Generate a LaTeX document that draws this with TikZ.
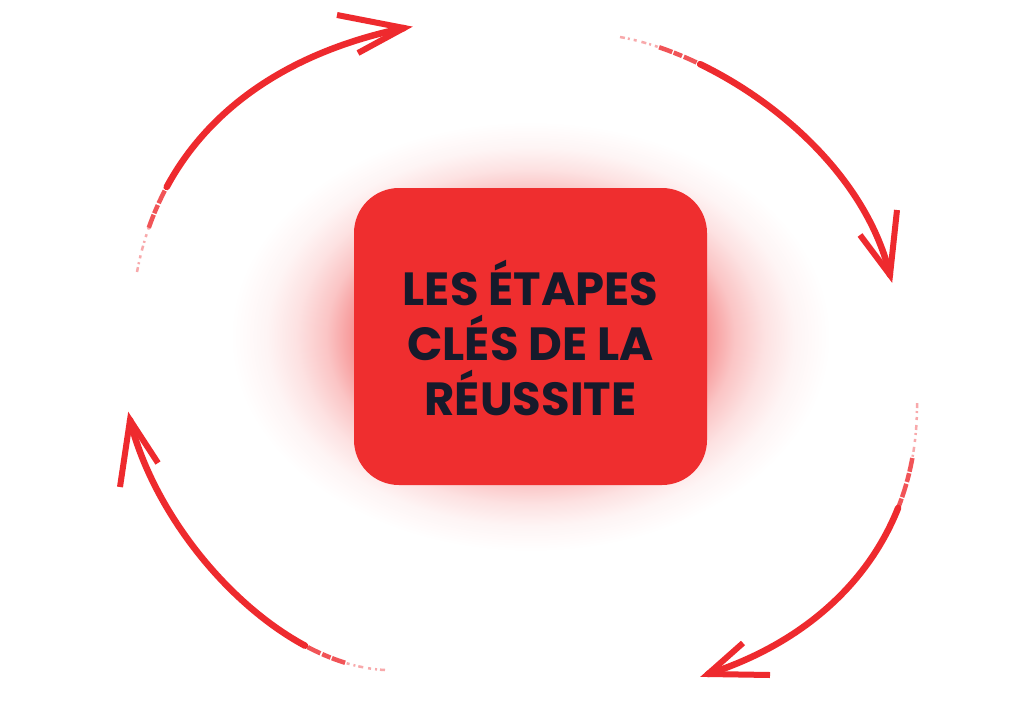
\documentclass[tikz,border=0pt]{standalone}
\usepackage{fontspec}
\newfontfamily\popfont{Poppins}
\usetikzlibrary{calc}
\definecolor{brushred}{HTML}{EE2A2E}
\definecolor{boxred}{HTML}{EF2E2F}
\definecolor{inkdark}{HTML}{161A2B}
\pgfdeclareradialshading{glowshade}{\pgfpoint{0bp}{0bp}}{%
  color(0bp)=(boxred);
  color(12bp)=(boxred!70);
  color(14.7bp)=(boxred!50);
  color(17bp)=(boxred!28);
  color(19.5bp)=(boxred!14);
  color(22bp)=(boxred!5);
  color(25bp)=(white);
  color(50bp)=(white)}
\tikzset{
  brush/.style={draw=brushred, line width=6.5pt, line cap=round},
  brushmid/.style={draw=brushred, line width=4.5pt, opacity=0.8,
    dash pattern=on 14pt off 1.5pt on 9pt off 2pt},
  brushtail/.style={draw=brushred, line width=2.5pt, opacity=0.4,
    dash pattern=on 5pt off 3pt on 2pt off 4pt on 3pt off 5pt},
  barb/.style={draw=brushred, line width=6pt, line join=miter, line cap=butt},
  titlebox/.style={fill=boxred, rounded corners=45pt},
  titletext/.style={text=inkdark, align=center,
    font=\popfont\bfseries\fontsize{46.5}{55}\selectfont}
}
\newcommand\bezsplit[2]{%
  \coordinate (#1q0) at ($(#1s)!#2!(#1c)$);
  \coordinate (#1q1) at ($(#1c)!#2!(#1d)$);
  \coordinate (#1q2) at ($(#1d)!#2!(#1t)$);
  \coordinate (#1r0) at ($(#1q0)!#2!(#1q1)$);
  \coordinate (#1r1) at ($(#1q1)!#2!(#1q2)$);
  \coordinate (#1m) at ($(#1r0)!#2!(#1r1)$);
}
% #1 prefix, #2 split of main stroke
\newcommand\brusharrow[2]{%
  \bezsplit{#1}{#2}
  \coordinate (#1xs) at (#1s);
  \coordinate (#1xc) at (#1q0);
  \coordinate (#1xd) at (#1r0);
  \coordinate (#1xt) at (#1m);
  \bezsplit{#1x}{0.5}
  \draw[brushtail] (#1xs) .. controls (#1xq0) and (#1xr0) .. (#1xm);
  \draw[brushmid] (#1xm) .. controls (#1xr1) and (#1xq2) .. (#1xt);
  \draw[brush] (#1m) .. controls (#1r1) and (#1q2) .. (#1t);
  \draw[barb] (#1b1) -- (#1t) -- (#1b2);
}
\begin{document}
\begin{tikzpicture}[x=1pt,y=-1pt]
\fill[white] (0,0) rectangle (1024,704);
\useasboundingbox (0,0) rectangle (1024,704);

% glow
\coordinate (glowc) at (530.5,336.5);
\shade[shading=glowshade] (glowc) ellipse [x radius=300, y radius=215];

% arrow 1 (top left)
\coordinate (as) at (137,272);
\coordinate (ac) at (160,150);
\coordinate (ad) at (250,60);
\coordinate (at) at (404,28);
\coordinate (ab1) at (337,15);
\coordinate (ab2) at (358,53);
\brusharrow{a}{0.25}

% arrow 2 (top right)
\coordinate (bs) at (620,37);
\coordinate (bc) at (720,55);
\coordinate (bd) at (860,150);
\coordinate (bt) at (890,275);
\coordinate (bb1) at (897,210);
\coordinate (bb2) at (860,235);
\brusharrow{b}{0.25}

% arrow 3 (bottom right)
\coordinate (cs) at (917,403);
\coordinate (cc) at (918,540);
\coordinate (cd) at (830,635);
\coordinate (ct) at (708,674);
\coordinate (cb1) at (743,643);
\coordinate (cb2) at (770,675);
\brusharrow{c}{0.28}

% arrow 4 (bottom left)
\coordinate (ds) at (385,670);
\coordinate (dc) at (280,665);
\coordinate (dd) at (160,540);
\coordinate (dt) at (130,420);
\coordinate (db1) at (120,487);
\coordinate (db2) at (158,463);
\brusharrow{d}{0.25}

% central box
\fill[titlebox] (354,188) rectangle (707,485);
\node[titletext] (title) at (530.5,338) {LES ÉTAPES\\CLÉS DE LA\\RÉUSSITE};
\end{tikzpicture}
\end{document}
